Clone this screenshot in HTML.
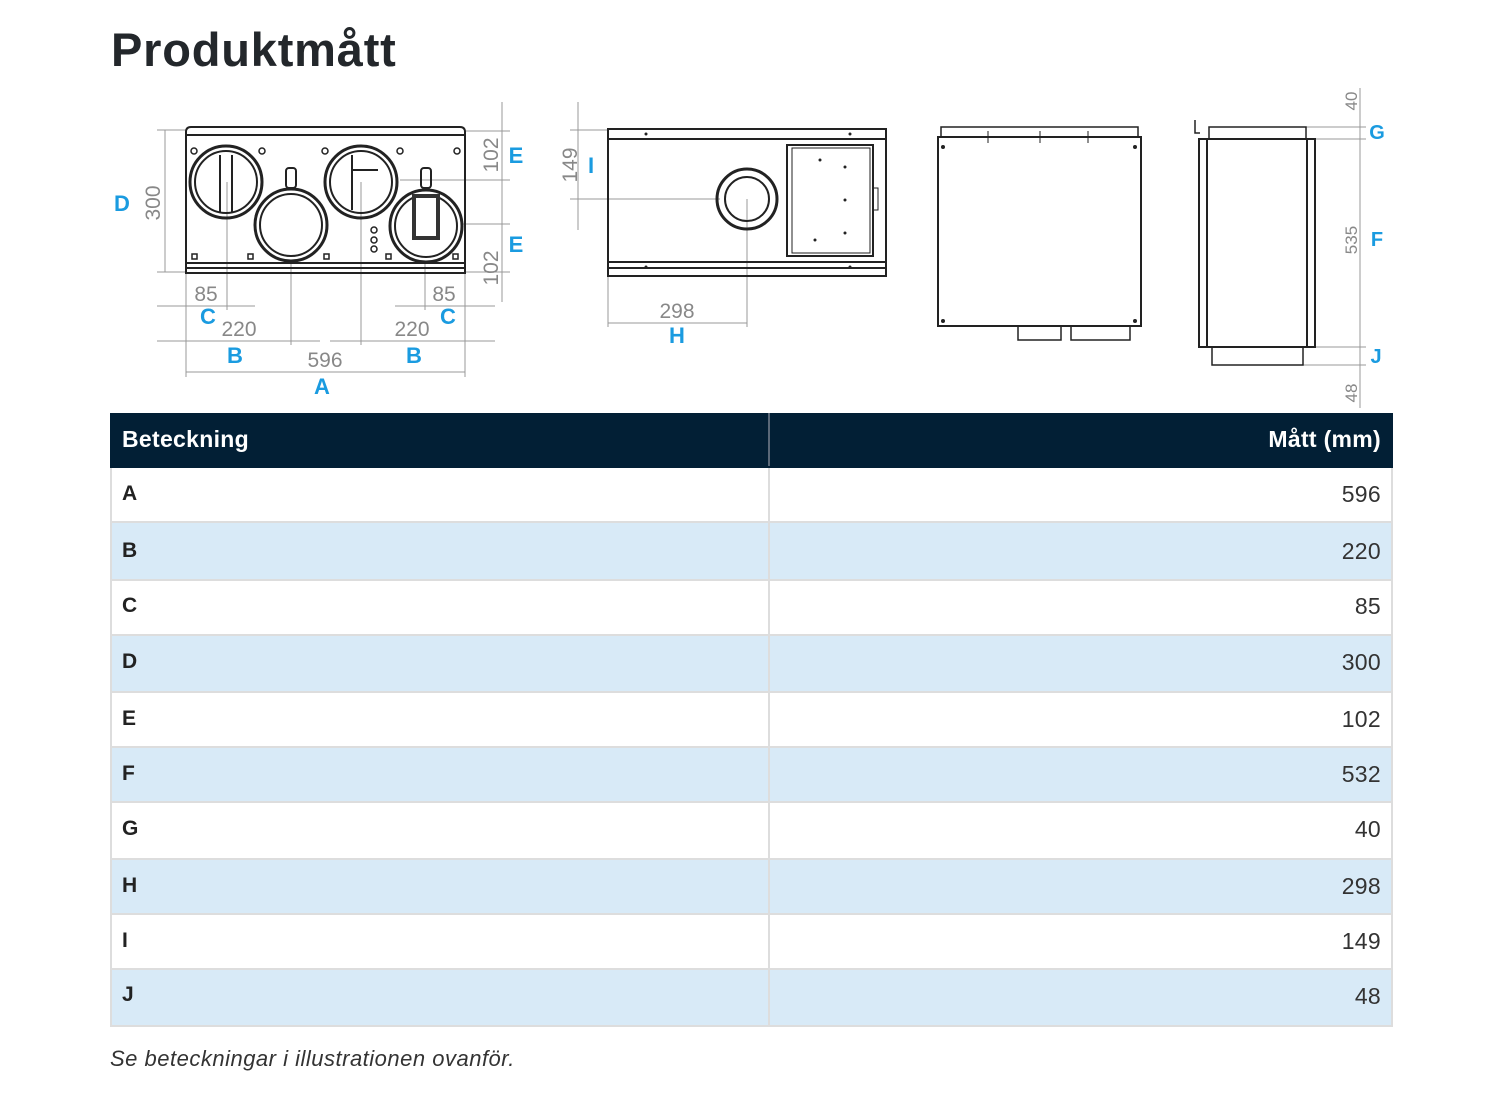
<!DOCTYPE html>
<html><head><meta charset="utf-8"><style>
body{margin:0;background:#fff;width:1500px;height:1093px;position:relative;overflow:hidden;font-family:"Liberation Sans",sans-serif;color:#222}
h1{position:absolute;left:111px;top:22px;margin:0;font-size:47px;font-weight:bold;color:#23272b;letter-spacing:0.8px}
.row{position:absolute;left:110px;width:1283px;border-left:2px solid #ddd;border-right:2px solid #ddd;border-bottom:2px solid #ddd;box-sizing:border-box}
.row .c1{position:absolute;left:10px;font-size:21px;font-weight:bold;color:#222}
.row .c2{position:absolute;right:10px;font-size:23px;color:#333;letter-spacing:0.3px}
.row .sep{position:absolute;left:656px;top:0;bottom:0;width:2px;background:#ddd}
.hd{background:#021f35;border-color:#021f35}
.hd .c1,.hd .c2{color:#fff;font-weight:bold;font-size:23px;letter-spacing:0.3px}
.hd .sep{background:#5a6878}
.lt{background:#d8eaf7}
.cap{position:absolute;left:110px;top:1046px;font-style:italic;font-size:22px;color:#333;letter-spacing:0.5px}
svg{position:absolute;left:0;top:0}
</style></head><body>
<h1>Produktmått</h1>
<svg width="1500" height="412" viewBox="0 0 1500 412" font-family="Liberation Sans,sans-serif">
<g stroke="#999" stroke-width="1" fill="none">
<line x1="157" y1="130" x2="186" y2="130"/><line x1="157" y1="272" x2="186" y2="272"/>
<line x1="165" y1="130" x2="165" y2="272"/>
<line x1="502" y1="102" x2="502" y2="302"/>
<line x1="465" y1="131" x2="510" y2="131"/><line x1="400" y1="180" x2="510" y2="180"/><line x1="420" y1="224" x2="510" y2="224"/><line x1="465" y1="272" x2="510" y2="272"/>
<line x1="186" y1="273" x2="186" y2="377"/><line x1="465" y1="273" x2="465" y2="377"/>
<line x1="227" y1="182" x2="227" y2="310"/><line x1="425" y1="226" x2="425" y2="310"/>
<line x1="291" y1="225" x2="291" y2="345"/><line x1="361" y1="182" x2="361" y2="345"/>
<line x1="157" y1="306" x2="255" y2="306"/><line x1="395" y1="306" x2="495" y2="306"/>
<line x1="157" y1="341" x2="320" y2="341"/><line x1="330" y1="341" x2="495" y2="341"/>
<line x1="186" y1="372" x2="465" y2="372"/>
<line x1="578" y1="102" x2="578" y2="230"/><line x1="570" y1="130" x2="608" y2="130"/><line x1="570" y1="199" x2="720" y2="199"/>
<line x1="608" y1="276" x2="608" y2="327"/><line x1="747" y1="199" x2="747" y2="327"/><line x1="608" y1="323" x2="747" y2="323"/>
<line x1="1360" y1="88" x2="1360" y2="408"/>
<line x1="1306" y1="127" x2="1366" y2="127"/><line x1="1315" y1="139" x2="1366" y2="139"/><line x1="1315" y1="347" x2="1366" y2="347"/><line x1="1303" y1="365" x2="1366" y2="365"/>
</g>
<g stroke="#222" stroke-width="2" fill="none">
<path d="M186 273 V132 Q186 127 191 127 H460 Q465 127 465 132 V273 Z"/>
<line x1="186" y1="135" x2="465" y2="135"/><line x1="186" y1="263" x2="465" y2="263"/><line x1="186" y1="268" x2="465" y2="268"/>
<circle cx="226" cy="182" r="36" stroke-width="3"/><circle cx="226" cy="182" r="31"/>
<circle cx="291" cy="225" r="36" stroke-width="3" fill="#fff"/><circle cx="291" cy="225" r="31"/>
<circle cx="361" cy="182" r="36" stroke-width="3"/><circle cx="361" cy="182" r="31"/>
<circle cx="426" cy="226" r="36" stroke-width="3" fill="#fff"/><circle cx="426" cy="226" r="31"/>
<rect x="286" y="168" width="10" height="20" rx="3"/><rect x="421" y="168" width="10" height="20" rx="3"/>
<rect x="414" y="196" width="24" height="42" stroke-width="4" stroke="#333"/>
<line x1="232" y1="155" x2="232" y2="212"/><line x1="220" y1="155" x2="220" y2="212"/>
<line x1="352" y1="155" x2="352" y2="210"/><line x1="352" y1="170" x2="378" y2="170"/>
</g>
<g fill="none" stroke="#222" stroke-width="1.5">
<circle cx="194" cy="151" r="3"/><circle cx="262" cy="151" r="3"/><circle cx="325" cy="151" r="3"/><circle cx="400" cy="151" r="3"/><circle cx="457" cy="151" r="3"/>
<circle cx="374" cy="230" r="3"/><circle cx="374" cy="240" r="3"/><circle cx="374" cy="249" r="3"/>
<rect x="192" y="254" width="5" height="5"/><rect x="248" y="254" width="5" height="5"/><rect x="324" y="254" width="5" height="5"/><rect x="386" y="254" width="5" height="5"/><rect x="453" y="254" width="5" height="5"/>
</g>
<g stroke="#222" stroke-width="2" fill="none">
<rect x="608" y="129" width="278" height="147"/>
<line x1="608" y1="139" x2="886" y2="139"/><line x1="608" y1="262" x2="886" y2="262"/><line x1="608" y1="268" x2="886" y2="268"/>
<circle cx="747" cy="199" r="30" stroke-width="3"/><circle cx="747" cy="199" r="22"/>
<rect x="787" y="145" width="86" height="111"/><rect x="792" y="148" width="78" height="105" stroke-width="1"/>
<rect x="873" y="188" width="5" height="22" stroke-width="1"/>
<rect x="938" y="137" width="203" height="189"/>
<rect x="941" y="127" width="197" height="10" stroke-width="1.5"/>
<line x1="988" y1="131" x2="988" y2="143" stroke-width="1"/><line x1="1040" y1="131" x2="1040" y2="143" stroke-width="1"/><line x1="1088" y1="131" x2="1088" y2="143" stroke-width="1"/>
<rect x="1018" y="326" width="43" height="14" stroke-width="1.5"/><rect x="1071" y="326" width="59" height="14" stroke-width="1.5"/>
<rect x="1199" y="139" width="116" height="208"/>
<line x1="1207" y1="139" x2="1207" y2="347"/><line x1="1307" y1="139" x2="1307" y2="347"/>
<rect x="1209" y="127" width="97" height="12" stroke-width="1.5"/>
<rect x="1212" y="347" width="91" height="18" stroke-width="1.5"/>
<path d="M1195 120 V133 H1200" stroke-width="1.5"/>
</g>
<g fill="#222">
<circle cx="646" cy="134" r="1.5"/><circle cx="850" cy="134" r="1.5"/><circle cx="646" cy="267" r="1.5"/><circle cx="850" cy="267" r="1.5"/>
<circle cx="820" cy="160" r="1.5"/><circle cx="845" cy="167" r="1.5"/><circle cx="845" cy="200" r="1.5"/><circle cx="815" cy="240" r="1.5"/><circle cx="845" cy="233" r="1.5"/>
<circle cx="943" cy="147" r="2"/><circle cx="1135" cy="147" r="2"/><circle cx="943" cy="321" r="2"/><circle cx="1135" cy="321" r="2"/>
</g>
<g fill="#888" font-size="21" text-anchor="middle">
<text transform="translate(160 203) rotate(-90)">300</text>
<text transform="translate(498 155) rotate(-90)">102</text>
<text transform="translate(498 268) rotate(-90)">102</text>
<text x="206" y="301">85</text><text x="444" y="301">85</text>
<text x="239" y="336">220</text><text x="412" y="336">220</text>
<text x="325" y="367">596</text>
<text transform="translate(577 165) rotate(-90)">149</text>
<text x="677" y="318">298</text>
<text font-size="17" transform="translate(1357 101) rotate(-90)">40</text>
<text font-size="17" transform="translate(1357 240) rotate(-90)">535</text>
<text font-size="17" transform="translate(1357 393) rotate(-90)">48</text>
</g>
<g fill="#1a9be0" font-size="22" font-weight="bold" text-anchor="middle">
<text x="122" y="211">D</text><text x="516" y="163">E</text><text x="516" y="252">E</text>
<text x="208" y="324">C</text><text x="448" y="324">C</text>
<text x="235" y="363">B</text><text x="414" y="363">B</text><text x="322" y="394">A</text>
<text x="591" y="173">I</text><text x="677" y="343">H</text>
<text x="1377" y="139" font-size="20">G</text><text x="1377" y="246" font-size="20">F</text><text x="1376" y="363" font-size="20">J</text>
</g>
</svg>

<div class="row hd" style="top:413px;height:55px"><div class="c1" style="top:13px">Beteckning</div><div class="sep"></div><div class="c2" style="top:13px">Mått (mm)</div></div>
<div class="row" style="top:468px;height:55px"><div class="c1" style="top:14px">A</div><div class="sep"></div><div class="c2" style="top:13px">596</div></div>
<div class="row lt" style="top:523px;height:58px"><div class="c1" style="top:16px">B</div><div class="sep"></div><div class="c2" style="top:15px">220</div></div>
<div class="row" style="top:581px;height:55px"><div class="c1" style="top:13px">C</div><div class="sep"></div><div class="c2" style="top:12px">85</div></div>
<div class="row lt" style="top:636px;height:57px"><div class="c1" style="top:14px">D</div><div class="sep"></div><div class="c2" style="top:13px">300</div></div>
<div class="row" style="top:693px;height:55px"><div class="c1" style="top:14px">E</div><div class="sep"></div><div class="c2" style="top:13px">102</div></div>
<div class="row lt" style="top:748px;height:55px"><div class="c1" style="top:14px">F</div><div class="sep"></div><div class="c2" style="top:13px">532</div></div>
<div class="row" style="top:803px;height:57px"><div class="c1" style="top:14px">G</div><div class="sep"></div><div class="c2" style="top:13px">40</div></div>
<div class="row lt" style="top:860px;height:55px"><div class="c1" style="top:14px">H</div><div class="sep"></div><div class="c2" style="top:13px">298</div></div>
<div class="row" style="top:915px;height:55px"><div class="c1" style="top:14px">I</div><div class="sep"></div><div class="c2" style="top:13px">149</div></div>
<div class="row lt" style="top:970px;height:57px"><div class="c1" style="top:13px">J</div><div class="sep"></div><div class="c2" style="top:13px">48</div></div>
<div class="cap">Se beteckningar i illustrationen ovanför.</div>
</body></html>
